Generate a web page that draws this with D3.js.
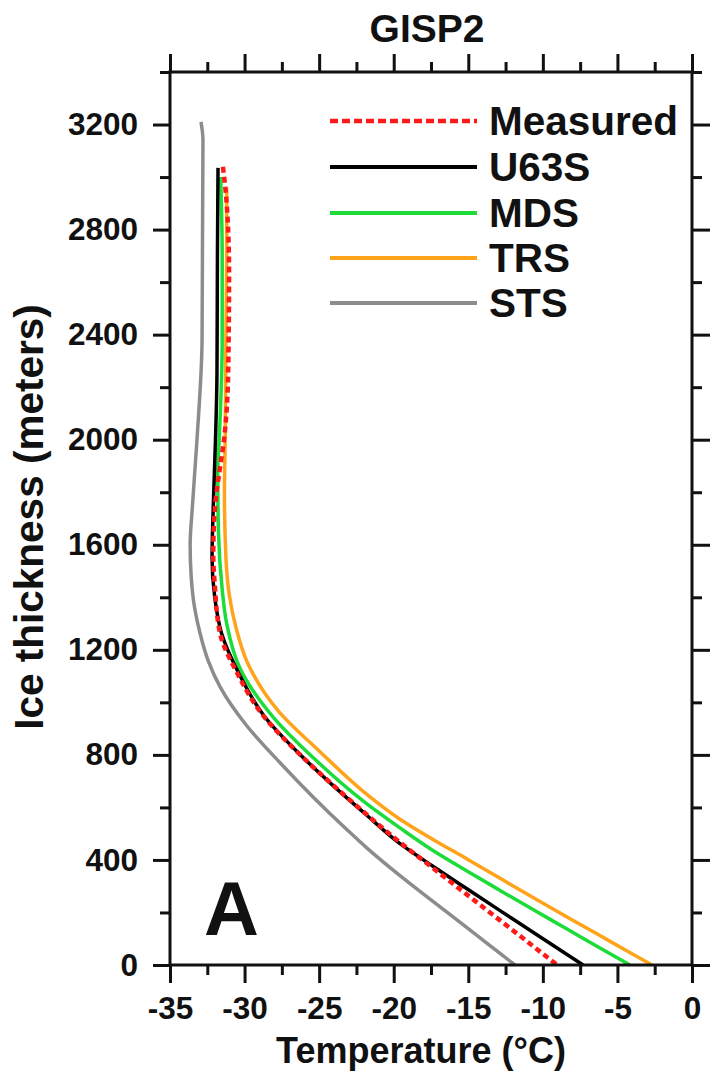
<!DOCTYPE html>
<html lang="en">
<head>
    <meta charset="UTF-8">
    <title>GISP2 temperature profile</title>
    <script src="https://cdn.jsdelivr.net/npm/d3@7"></script>
    <style>
        body {
            margin: 0;
            background-color: #fff;
        }

        svg {
            display: block;
        }

        text {
            font-family: "Liberation Sans", Arial, sans-serif;
            font-weight: bold;
            fill: #111;
        }
    </style>
</head>
<body>
    <svg id="chart" width="711" height="1073"></svg>

    <script>
        const width = 711;
        const height = 1073;

        // [temperature °C, ice thickness m]
        const measured = [
            [-31.45, 3039], [-31.2, 2900], [-31.04, 2635], [-31.1, 2254], [-31.38, 2000],
            [-31.7, 1873], [-31.98, 1744], [-32.1, 1560], [-32.0, 1450], [-31.65, 1264],
            [-30.5, 1112], [-28.76, 950], [-26.48, 812], [-24.27, 695], [-22.06, 585],
            [-19.78, 476], [-17.37, 369], [-15.09, 268], [-12.87, 170], [-10.66, 72], [-9.05, 0]
        ];
        const u63s = [
            [-31.78, 3035], [-31.82, 2700], [-31.85, 2254], [-31.95, 2000], [-32.1, 1744],
            [-32.18, 1550], [-32.0, 1400], [-31.55, 1264], [-30.4, 1112], [-28.65, 945],
            [-26.35, 805], [-24.1, 685], [-21.9, 575], [-19.58, 462], [-17.37, 376],
            [-15.09, 290], [-12.87, 207], [-10.66, 125], [-8.38, 40], [-7.3, 0]
        ];
        const mds = [
            [-31.6, 3000], [-31.5, 2700], [-31.5, 2380], [-31.7, 2000], [-31.8, 1873],
            [-31.75, 1650], [-31.5, 1430], [-31.2, 1300], [-30.31, 1130], [-28.1, 945],
            [-25.41, 790], [-22.06, 625], [-19.58, 522], [-17.37, 436], [-15.09, 358],
            [-12.87, 284], [-10.66, 211], [-8.38, 137], [-6.17, 65], [-4.16, 0]
        ];
        const trs = [
            [-31.2, 2960], [-31.2, 2700], [-31.25, 2380], [-31.3, 2000], [-31.35, 1800],
            [-31.25, 1550], [-31.0, 1400], [-30.6, 1290], [-29.8, 1150], [-27.7, 965],
            [-25.0, 815], [-21.7, 645], [-19.58, 555], [-17.37, 478], [-15.09, 404],
            [-12.87, 330], [-10.66, 257], [-8.38, 183], [-6.17, 112], [-4.5, 58], [-2.68, 0]
        ];
        const sts = [
            [-32.92, 3210], [-32.79, 3142], [-32.85, 2380], [-33.19, 2000], [-33.5, 1744],
            [-33.65, 1600], [-33.58, 1480], [-33.35, 1360], [-32.99, 1264], [-32.45, 1160],
            [-31.65, 1060], [-29.84, 910], [-27.62, 770], [-25.41, 640], [-23.13, 515],
            [-21.79, 445], [-19.58, 340], [-17.37, 242], [-15.09, 142], [-12.87, 44], [-11.87, 0]
        ];

        const seriesNames = ["Measured", "U63S", "MDS", "TRS", "STS"];
        const seriesColors = ["#ff1a1a", "#000000", "#1ddc3a", "#ffa31a", "#8c8c8c"];
        const seriesData = [measured, u63s, mds, trs, sts];

        const xMajorTicks = [-35, -30, -25, -20, -15, -10, -5, 0];
        const xMinorTicks = [-32.5, -27.5, -22.5, -17.5, -12.5, -7.5, -2.5];
        const yMajorTicks = [0, 400, 800, 1200, 1600, 2000, 2400, 2800, 3200];
        const yMinorTicks = [200, 600, 1000, 1400, 1800, 2200, 2600, 3000, 3400];

        const plotLeft = 170, plotRight = 692, plotTop = 72, plotBottom = 965;

        const svg = d3.select("#chart");

        const x = d3.scaleLinear().domain([-35, 0]).range([plotLeft, plotRight]);
        const y = d3.scaleLinear().domain([0, 3400]).range([plotBottom, plotTop]);

        function addAxis(axis, transform, size, labels) {
            const g = svg.append("g")
                .attr("transform", transform)
                .call(axis.tickSize(size).tickSizeOuter(0));
            g.select(".domain").remove();
            g.selectAll(".tick line").attr("stroke", "#111").attr("stroke-width", 3);
            if (labels) {
                g.selectAll(".tick text")
                    .attr("font-size", "31.5px")
                    .attr("fill", "#111")
                    .attr("font-family", "Liberation Sans, Arial, sans-serif")
                    .attr("font-weight", "bold");
            }
            return g;
        }

        // bottom / top
        addAxis(d3.axisBottom(x).tickValues(xMajorTicks).tickFormat(d => String(d)).tickPadding(14),
            `translate(0,${plotBottom})`, 18, true);
        addAxis(d3.axisBottom(x).tickValues(xMinorTicks).tickFormat(""), `translate(0,${plotBottom})`, 10, false);
        addAxis(d3.axisTop(x).tickValues(xMajorTicks).tickFormat(""), `translate(0,${plotTop})`, 18, false);
        addAxis(d3.axisTop(x).tickValues(xMinorTicks).tickFormat(""), `translate(0,${plotTop})`, 10, false);

        // left / right
        addAxis(d3.axisLeft(y).tickValues(yMajorTicks).tickFormat(d => String(d)).tickPadding(15),
            `translate(${plotLeft},0)`, 17, true);
        addAxis(d3.axisLeft(y).tickValues(yMinorTicks).tickFormat(""), `translate(${plotLeft},0)`, 10, false);
        addAxis(d3.axisRight(y).tickValues(yMajorTicks).tickFormat(""), `translate(${plotRight},0)`, 18, false);
        addAxis(d3.axisRight(y).tickValues(yMinorTicks).tickFormat(""), `translate(${plotRight},0)`, 10, false);

        // curves, STS first so Measured sits on top
        const line = d3.line()
            .x(d => x(d[0]))
            .y(d => y(d[1]))
            .curve(d3.curveMonotoneY);

        const order = [4, 3, 2, 1, 0];
        order.forEach(i => {
            svg.append("path")
                .datum(seriesData[i])
                .attr("d", line)
                .attr("fill", "none")
                .attr("stroke", seriesColors[i])
                .attr("stroke-width", i === 0 ? 4.5 : 3.5)
                .attr("stroke-dasharray", i === 0 ? "6,4" : null);
        });

        // frame
        svg.append("rect")
            .attr("x", plotLeft)
            .attr("y", plotTop)
            .attr("width", plotRight - plotLeft)
            .attr("height", plotBottom - plotTop)
            .attr("fill", "none")
            .attr("stroke", "#111")
            .attr("stroke-width", 3);

        // legend
        const legendY = [121, 167, 213, 258, 303];
        seriesNames.forEach((name, i) => {
            svg.append("line")
                .attr("x1", 330).attr("x2", 477)
                .attr("y1", legendY[i]).attr("y2", legendY[i])
                .attr("stroke", seriesColors[i])
                .attr("stroke-width", i === 0 ? 4.5 : 4)
                .attr("stroke-dasharray", i === 0 ? "8,4" : null);
            svg.append("text")
                .attr("x", 489)
                .attr("y", legendY[i] + 14)
                .attr("font-size", "40.5px")
                .text(name);
        });

        // titles
        svg.append("text")
            .attr("x", 427)
            .attr("y", 42)
            .attr("text-anchor", "middle")
            .attr("font-size", "39px")
            .text("GISP2");

        svg.append("text")
            .attr("x", 421)
            .attr("y", 1063)
            .attr("text-anchor", "middle")
            .attr("font-size", "36px")
            .text("Temperature (°C)");

        svg.append("text")
            .attr("transform", "translate(43,517) rotate(-90)")
            .attr("text-anchor", "middle")
            .attr("font-size", "40.5px")
            .text("Ice thickness (meters)");

        svg.append("text")
            .attr("x", 204)
            .attr("y", 935)
            .attr("font-size", "76px")
            .text("A");
    </script>
</body>
</html>
